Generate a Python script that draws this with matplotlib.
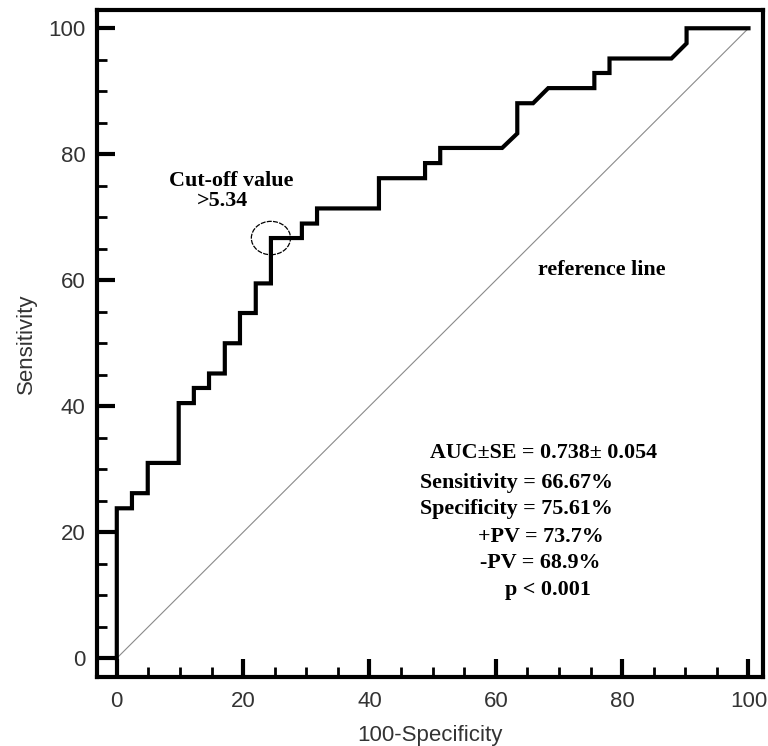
import matplotlib
matplotlib.use("Agg")
import matplotlib.pyplot as plt
from matplotlib.patches import Ellipse

# ROC curve points (100-Specificity, Sensitivity)
fpr = [0, 0, 2.4, 2.4, 4.9, 4.9, 9.8, 9.8, 12.2, 12.2, 14.6, 14.6, 17.1, 17.1,
       19.5, 19.5, 22.0, 22.0, 24.4, 24.4, 29.3, 29.3, 31.7, 31.7, 41.5, 41.5,
       48.8, 48.8, 51.2, 51.2, 61.0, 63.4, 63.4, 65.9, 68.3, 75.6, 75.6, 78.0,
       78.0, 87.8, 90.2, 90.2, 100]
tpr = [0, 23.8, 23.8, 26.2, 26.2, 31.0, 31.0, 40.5, 40.5, 42.9, 42.9, 45.2, 45.2, 50.0,
       50.0, 54.8, 54.8, 59.5, 59.5, 66.7, 66.7, 69.0, 69.0, 71.4, 71.4, 76.2,
       76.2, 78.6, 78.6, 81.0, 81.0, 83.3, 88.1, 88.1, 90.5, 90.5, 92.9, 92.9,
       95.2, 95.2, 97.6, 100, 100]

cutoff = (24.4, 66.7)
stats_lines = ["AUC\u00b1SE = 0.738\u00b1 0.054", "Sensitivity = 66.67%",
               "Specificity = 75.61%", "+PV = 73.7%", "-PV = 68.9%", "p < 0.001"]
stats_x = [49.6, 48.0, 48.0, 57.2, 57.5, 61.5]
stats_y = [32.6, 27.8, 23.7, 19.3, 15.1, 10.8]

serif = "Liberation Serif"
sans = "Liberation Sans"
fs = 15.8

fig = plt.figure(figsize=(7.68, 7.46), dpi=100)
ax = fig.add_axes([0.126, 0.093, 0.8675, 0.8936])

ax.plot([0, 100], [0, 100], color="#8a8a8a", lw=0.8)
ax.plot(fpr, tpr, color="black", lw=3.0, solid_joinstyle="miter")
ax.add_patch(Ellipse(cutoff, 6.2, 5.3, fill=False, ec="black", lw=0.9, ls=(0, (4, 1))))

ax.text(18.1, 75.7, "Cut-off value", family=serif, weight="bold", fontsize=fs,
        ha="center", va="center")
ax.text(16.8, 72.6, ">5.34", family=serif, weight="bold", fontsize=fs,
        ha="center", va="center")
ax.text(76.8, 61.6, "reference line", family=serif, weight="bold", fontsize=fs,
        ha="center", va="center")
for s, x, y in zip(stats_lines, stats_x, stats_y):
    ax.text(x, y, s, family=serif, weight="bold", fontsize=fs, ha="left", va="center")

ax.set_xlim(-3.17, 102.3)
ax.set_ylim(-2.92, 102.9)
ax.set_xticks(range(0, 101, 20))
ax.set_yticks(range(0, 101, 20))
ax.set_xticks(range(0, 101, 5), minor=True)
ax.set_yticks(range(0, 101, 5), minor=True)
ax.tick_params(which="major", direction="in", length=13, width=3, labelsize=16,
               labelcolor="#333333", labelfontfamily=sans)
ax.tick_params(which="minor", direction="in", length=7, width=2)
ax.tick_params(axis="x", which="major", pad=10)
ax.tick_params(axis="y", which="major", pad=8)
for sp in ax.spines.values():
    sp.set_linewidth(3)

ax.set_xlabel("100-Specificity", family=sans, fontsize=16, color="#333333", labelpad=10)
ax.set_ylabel("Sensitivity", family=sans, fontsize=16, color="#333333", labelpad=8)

fig.savefig("out.png", dpi=100)
